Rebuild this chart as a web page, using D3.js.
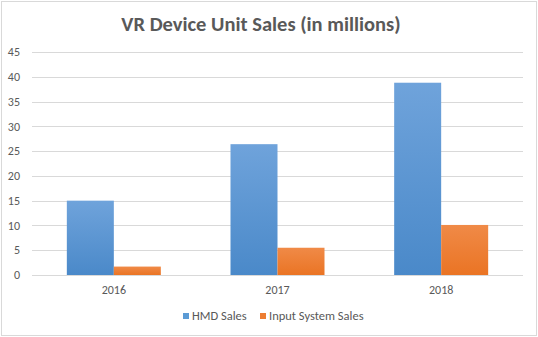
<!DOCTYPE html>
<html>
<head>
<meta charset="utf-8">
<script src="https://cdn.jsdelivr.net/npm/d3@7"></script>
<style>
  body { margin: 0; background: #fff; }
  svg text { font-family: Carlito, "Open Sans", "Liberation Sans", sans-serif; fill: #595959; }
</style>
</head>
<body>
<div class="js-chart"></div>
<script>
// Sales per year, in millions of units
var years = ['2016', '2017', '2018'];
var hmdSales = [15, 26.4, 38.8];
var inputSales = [1.7, 5.5, 10.1];
var seriesNames = ['HMD Sales', 'Input System Sales'];
var yTicks = [0, 5, 10, 15, 20, 25, 30, 35, 40, 45];

var width = 538;
var height = 337;
var plotLeft = 32;
var plotRight = 523;
var plotTop = 52;
var plotBottom = 275;
var barWidth = 47;

var svg = d3.select('.js-chart').append('svg')
  .attr('width', width)
  .attr('height', height);

// gradients for the two series
var defs = svg.append('defs');
var gradients = [
  { id: 'grad-hmd', top: '#6fa3db', bottom: '#4a89c9' },
  { id: 'grad-input', top: '#f08a47', bottom: '#ea7424' }
];
gradients.forEach(function(g) {
  var lg = defs.append('linearGradient')
    .attr('id', g.id)
    .attr('x1', 0).attr('y1', 0).attr('x2', 0).attr('y2', 1);
  lg.append('stop').attr('offset', '0%').attr('stop-color', g.top);
  lg.append('stop').attr('offset', '100%').attr('stop-color', g.bottom);
});

// outer frame
svg.append('rect')
  .attr('x', 1.5).attr('y', 1.5)
  .attr('width', width - 3).attr('height', height - 3)
  .attr('fill', '#fff')
  .attr('stroke', '#d9d9d9');

var x = d3.scalePoint()
  .domain(years)
  .range([plotLeft, plotRight])
  .padding(0.5);

var y = d3.scaleLinear()
  .domain([0, 45])
  .range([plotBottom, plotTop]);

// gridlines
svg.append('g').selectAll('line')
  .data(yTicks)
  .enter().append('line')
  .attr('x1', plotLeft)
  .attr('x2', plotRight)
  .attr('y1', function(d) { return Math.round(y(d)) + 0.5; })
  .attr('y2', function(d) { return Math.round(y(d)) + 0.5; })
  .attr('stroke', '#d9d9d9');

// y tick labels
svg.append('g').selectAll('text')
  .data(yTicks)
  .enter().append('text')
  .attr('x', 20)
  .attr('y', function(d) { return y(d); })
  .attr('dy', '0.35em')
  .attr('text-anchor', 'end')
  .style('font-size', '12px')
  .text(function(d) { return d; });

// bars
var series = [
  { values: hmdSales, fill: 'url(#grad-hmd)', offset: -barWidth },
  { values: inputSales, fill: 'url(#grad-input)', offset: 0 }
];
series.forEach(function(s) {
  svg.append('g').selectAll('rect')
    .data(s.values)
    .enter().append('rect')
    .attr('x', function(d, i) { return x(years[i]) + s.offset; })
    .attr('y', function(d) { return y(d); })
    .attr('width', barWidth)
    .attr('height', function(d) { return y(0) - y(d); })
    .attr('fill', s.fill);
});

// x labels
svg.append('g').selectAll('text')
  .data(years)
  .enter().append('text')
  .attr('x', function(d) { return x(d); })
  .attr('y', 294)
  .attr('text-anchor', 'middle')
  .style('font-size', '12px')
  .text(function(d) { return d; });

// title
svg.append('text')
  .attr('x', 261)
  .attr('y', 31)
  .attr('text-anchor', 'middle')
  .style('font-size', '20.5px')
  .style('font-weight', 'bold')
  .text('VR Device Unit Sales (in millions)');

// legend
var legendColors = ['#5b9bd5', '#ed7d31'];
var legendX = [183, 260];
var legend = svg.append('g').selectAll('g')
  .data(seriesNames)
  .enter().append('g')
  .attr('transform', function(d, i) { return 'translate(' + legendX[i] + ',313)'; });
legend.append('rect')
  .attr('width', 6).attr('height', 6)
  .attr('fill', function(d, i) { return legendColors[i]; });
legend.append('text')
  .attr('x', 9)
  .attr('y', 3)
  .attr('dy', '0.35em')
  .style('font-size', '12.5px')
  .text(function(d) { return d; });
</script>
</body>
</html>
